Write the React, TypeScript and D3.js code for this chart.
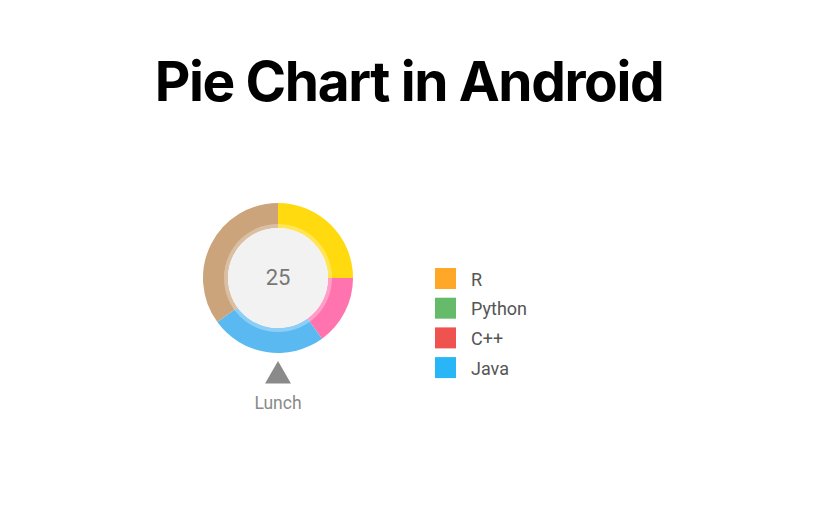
import React from "react";
import * as d3 from "d3";

const categories = ["Yellow", "Pink", "Blue", "Tan"];
const values = [25, 15, 25, 35];
const sliceColors = ["#FFDA0F", "#FF74AE", "#5BB9F2", "#CCA47C"];
const centerText = "25";
const legendLabels = ["R", "Python", "C++", "Java"];
const legendColors = ["#FFA726", "#66BB6A", "#EF5350", "#29B6F6"];
const markerLabel = "Lunch";

export default function App() {
  const W = 817, H = 522;
  const cx = 278, cy = 278;
  const outerR = 75, innerR = 50;
  const pie = d3.pie<number>().sort(null).value((d) => d);
  const arcs = pie(values);
  const arc = d3.arc<d3.PieArcDatum<number>>().innerRadius(innerR).outerRadius(outerR);
  const tri = d3.symbol().type(d3.symbolTriangle).size(290)();
  return (
    <svg width={W} height={H} style={{ position: "absolute", left: 0, top: 0, background: "#fff" }}>
      <rect width={W} height={H} fill="#fff" />
      <text x={409} y={101} textAnchor="middle" fontFamily="Inter" fontWeight={700} fontSize={55} letterSpacing={-1.4} fill="#000">
        Pie Chart in Android
      </text>
      <g transform={`translate(${cx},${cy})`}>
        {arcs.map((a, i) => (
          <path key={categories[i]} d={arc(a) || ""} fill={sliceColors[i]} />
        ))}
        <circle r={54} fill="#fff" opacity={0.3} />
        <circle r={innerR} fill="#F2F2F2" />
        <text y={7} textAnchor="middle" fontFamily="Roboto" fontSize={22} fill="#777">
          {centerText}
        </text>
      </g>
      <path d={tri || ""} transform={`translate(278,376)`} fill="#8A8A8A" />
      <text x={278} y={409} textAnchor="middle" fontFamily="Roboto" fontSize={17.5} fill="#8A8A8A">
        {markerLabel}
      </text>
      {legendLabels.map((l, i) => (
        <g key={l} transform={`translate(435,${268 + i * 29.7})`}>
          <rect width={21} height={21} fill={legendColors[i]} />
          <text x={36} y={17.5} fontFamily="Roboto" fontSize={18} fill="#555">
            {l}
          </text>
        </g>
      ))}
    </svg>
  );
}
